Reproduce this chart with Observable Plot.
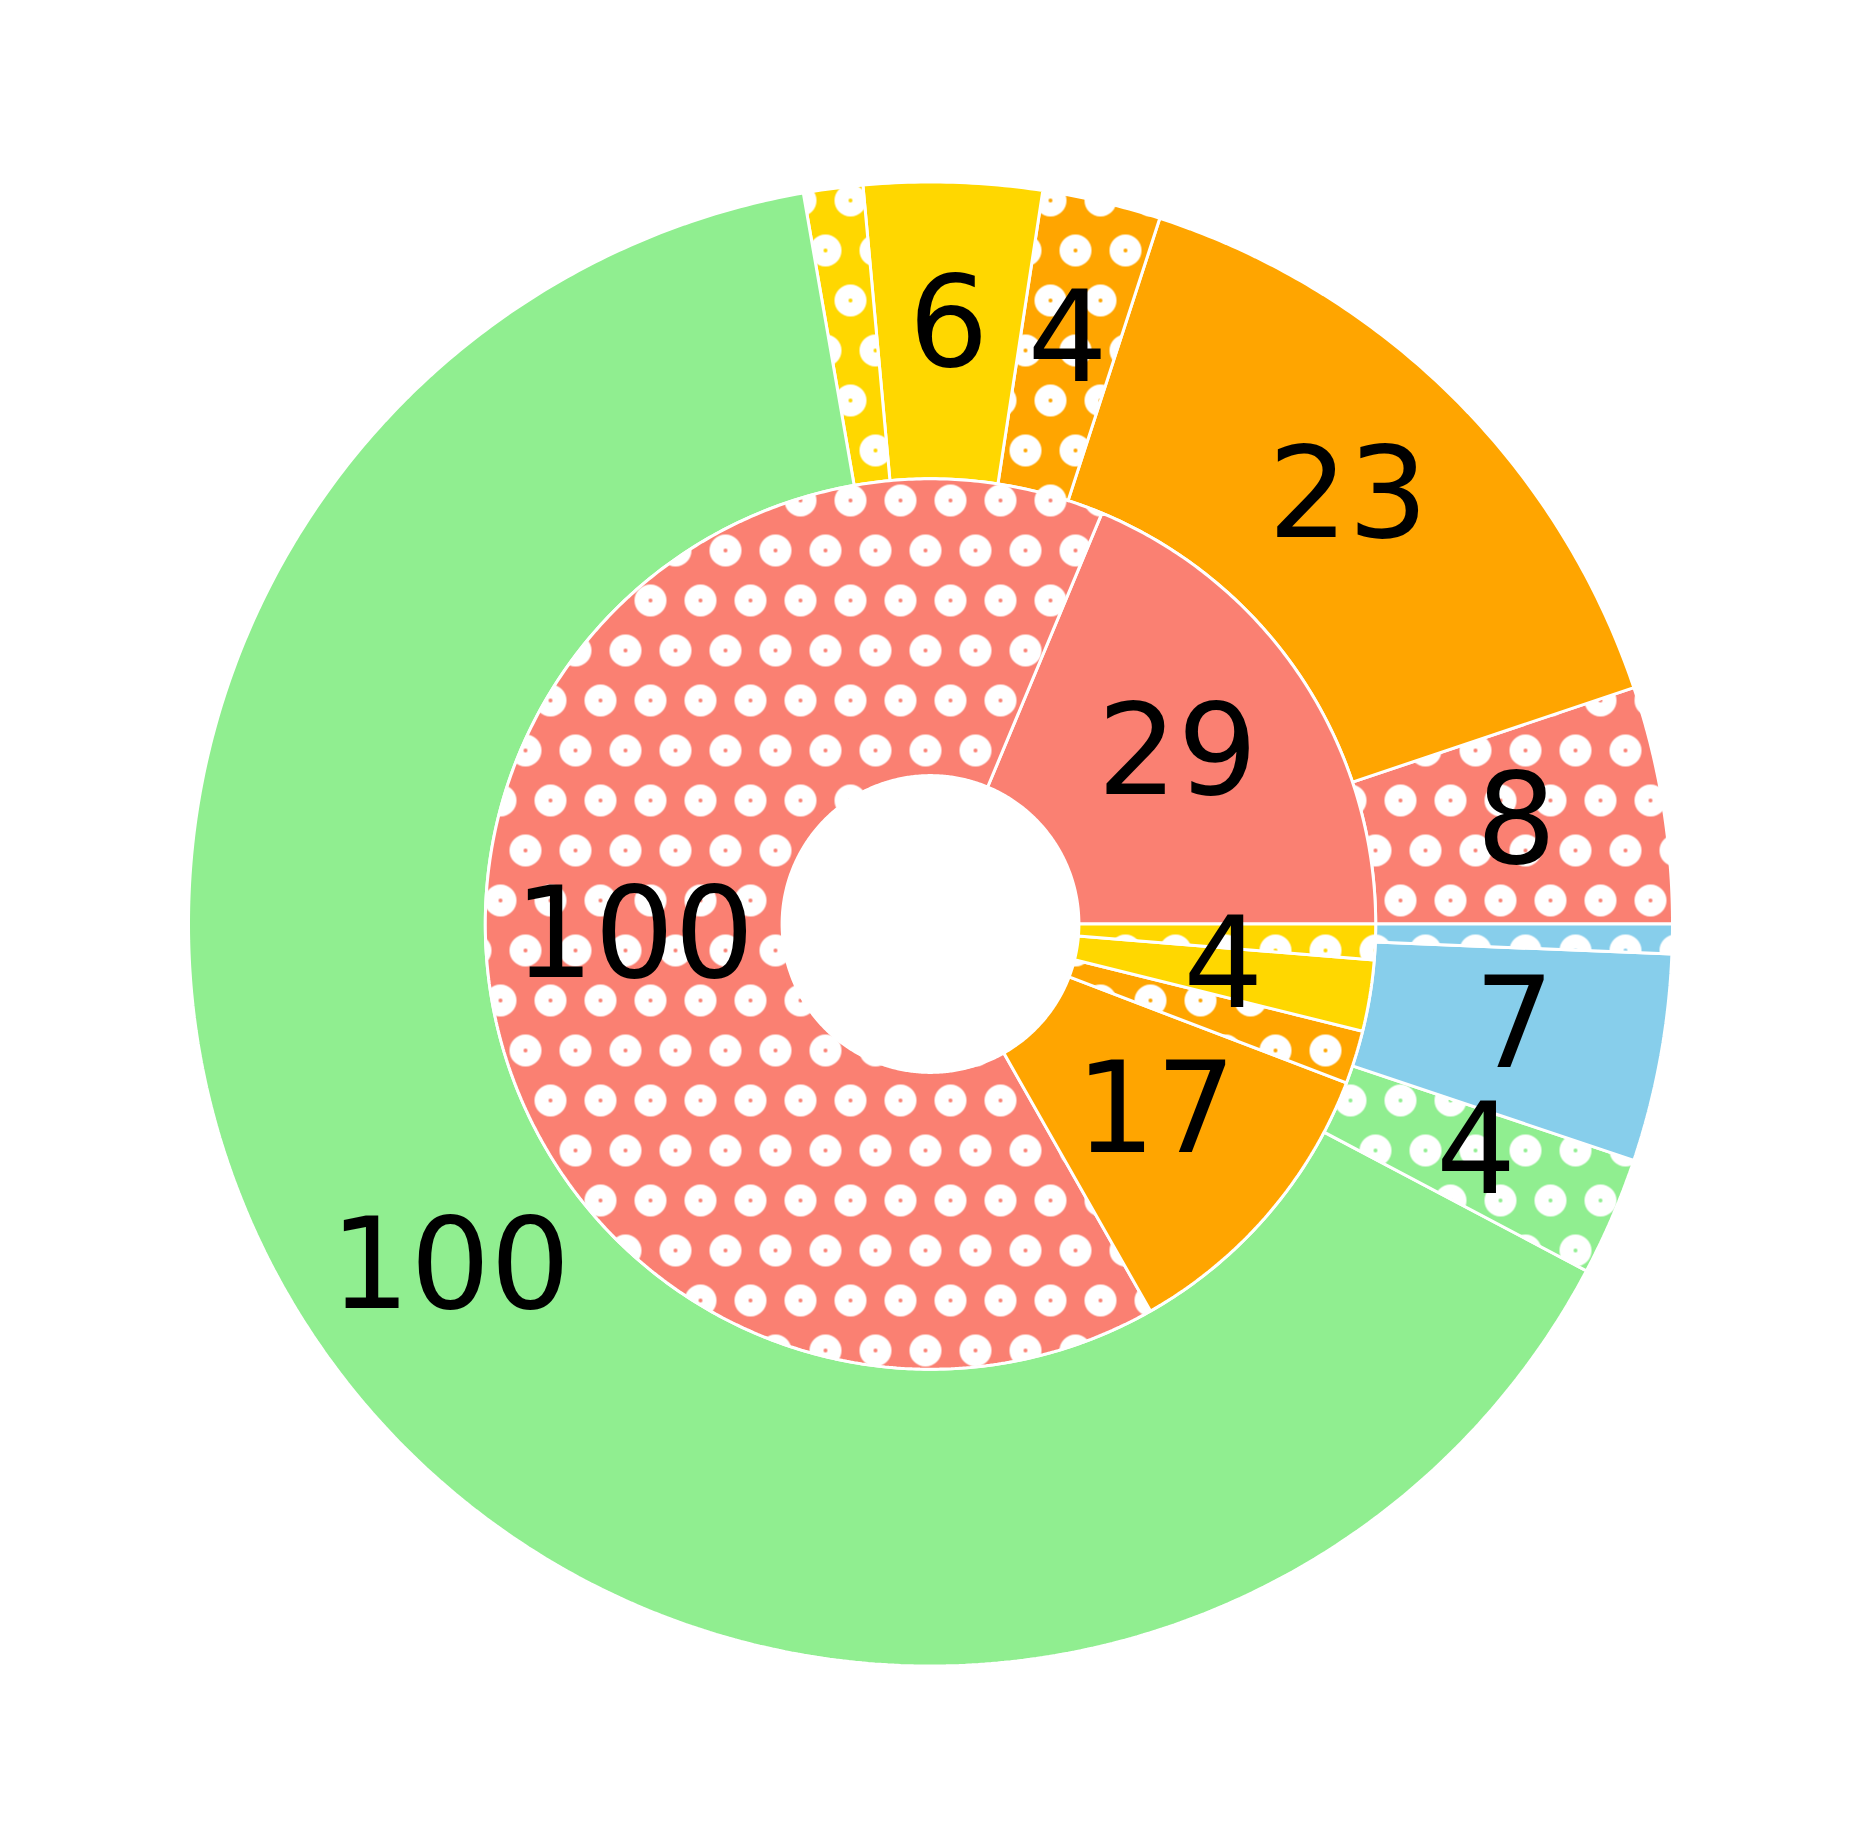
<!DOCTYPE html>
<html><head><meta charset="utf-8">
<script src="https://cdn.jsdelivr.net/npm/d3@7"></script>
<script src="https://cdn.jsdelivr.net/npm/@observablehq/plot@0.6"></script>
<style>body{margin:0;background:#fff} svg{display:block}</style>
</head><body><div id="chart"></div>
<script>
// Inner ring (counter-clockwise from 3 o'clock)
const innerValues = [29, 100, 17, 3, 4, 2];
const innerColors = ["salmon", "salmon", "orange", "orange", "gold", "gold"];
const innerDotted = [false, true, false, true, false, true];
const innerLabels = ["29", "100", "17", "", "4", ""];
// Outer ring
const outerValues = [8, 23, 4, 6, 2, 100, 4, 7, 1];
const outerColors = ["salmon", "orange", "orange", "gold", "gold", "lightgreen", "lightgreen", "skyblue", "skyblue"];
const outerDotted = [true, false, true, false, true, false, true, false, true];
const outerLabels = ["8", "23", "4", "6", "", "100", "4", "7", ""];

const colorHex = {salmon: "#FA8072", orange: "#FFA500", gold: "#FFD700", lightgreen: "#90EE90", skyblue: "#87CEEB"};

const W = 1860, H = 1848, cx = 930, cy = 923.5, R = 742;

const polys = [], texts = [];
function ring(values, colors, dotted, labels, r0, r1, name) {
  const total = d3.sum(values);
  let acc = 0;
  values.forEach((v, i) => {
    const a0 = acc / total * 2 * Math.PI; acc += v;
    const a1 = acc / total * 2 * Math.PI;
    const n = Math.max(2, Math.ceil((a1 - a0) / (Math.PI / 360)));
    const id = name + i;
    const fill = dotted[i] ? `url(#dots-${colors[i]})` : colorHex[colors[i]];
    const pts = [];
    for (let k = 0; k <= n; k++) { const a = a0 + (a1 - a0) * k / n; pts.push([r1 * Math.cos(a), r1 * Math.sin(a)]); }
    for (let k = n; k >= 0; k--) { const a = a0 + (a1 - a0) * k / n; pts.push([r0 * Math.cos(a), r0 * Math.sin(a)]); }
    pts.push(pts[0]);
    pts.forEach(p => polys.push({id, x: p[0], y: p[1], fill}));
    if (labels[i]) {
      const am = (a0 + a1) / 2, rm = (r0 + r1) / 2;
      texts.push({x: rm * Math.cos(am), y: rm * Math.sin(am), text: labels[i]});
    }
  });
}
ring(outerValues, outerColors, outerDotted, outerLabels, 0.6, 1.0, "o");
ring(innerValues, innerColors, innerDotted, innerLabels, 0.2, 0.6, "i");

const chart = Plot.plot({
  width: W, height: H, margin: 0,
  x: {domain: [-cx / R, (W - cx) / R], axis: null},
  y: {domain: [-(H - cy) / R, cy / R], axis: null},
  color: {type: "identity"},
  marks: [
    Plot.line(polys, {x: "x", y: "y", z: "id", fill: "fill", stroke: "white", strokeWidth: 3, strokeLinejoin: "miter", curve: "linear"}),
    Plot.text(texts, {x: "x", y: "y", text: "text", fontSize: 126, fontFamily: "DejaVu Sans", fill: "black", lineAnchor: "bottom", dy: 35})
  ]
});

// dotted patterns (white rings with face-colour centre)
const svg = d3.select(chart);
const defs = svg.insert("defs", ":first-child");
Object.entries(colorHex).forEach(([name, hex]) => {
  const p = defs.append("pattern").attr("id", "dots-" + name)
    .attr("patternUnits", "userSpaceOnUse")
    .attr("x", -25).attr("y", -25).attr("width", 50).attr("height", 100);
  p.append("rect").attr("width", 50).attr("height", 100).attr("fill", hex);
  [[25, 25], [0, 75], [50, 75]].forEach(([x, y]) =>
    p.append("circle").attr("cx", x).attr("cy", y).attr("r", 9)
      .attr("fill", "none").attr("stroke", "white").attr("stroke-width", 14));
});
document.getElementById("chart").appendChild(chart);
</script>
</body></html>
